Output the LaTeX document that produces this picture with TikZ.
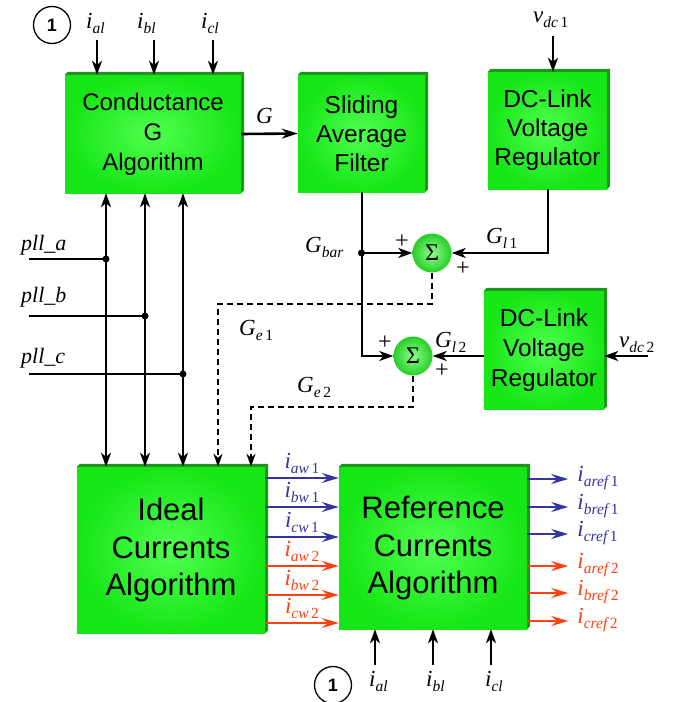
\documentclass[tikz,border=0pt]{standalone}
\usepackage{fontspec}
\setmainfont{Liberation Sans}
\newfontfamily\tms{Liberation Serif}
\usetikzlibrary{arrows.meta,backgrounds}
\definecolor{gedge}{RGB}{22,230,22}
\definecolor{gmid}{RGB}{80,255,80}
\definecolor{gdark}{RGB}{30,150,30}
\definecolor{sgin}{RGB}{140,255,140}
\definecolor{sgout}{RGB}{40,205,40}
\definecolor{iblue}{RGB}{52,52,163}
\definecolor{ired}{RGB}{255,64,16}
\newcommand\lb[3]{{\tms\fontsize{23}{23}\selectfont\itshape #1}\raisebox{-5.5pt}{\tms\fontsize{15.5}{15.5}\selectfont\itshape #2\ifx\relax#3\relax\else\,\upshape #3\fi}}
\newcommand\pl[1]{{\tms\fontsize{22}{22}\selectfont\itshape pll\_#1}}
\begin{document}
\begin{tikzpicture}[x=1pt,y=-1pt,
  gbox/.style={inner sep=0pt, align=center, shading=radial, inner color=gmid, outer color=gedge},
  sig/.style={circle, inner sep=0pt, minimum size=39pt, shading=radial, inner color=sgin, outer color=sgout},
  one/.style={circle, draw, line width=1.3pt, minimum size=37pt, inner sep=0pt, font=\fontsize{18}{18}\selectfont\bfseries},
  arr/.style={line width=2pt, -{Stealth[length=14pt,width=10pt,inset=4pt]}},
  barr/.style={line width=2.6pt, {Stealth[length=14pt,width=10pt,inset=4pt]}-{Stealth[length=14pt,width=10pt,inset=4pt]}},
  carr/.style={line width=2.4pt, -{Stealth[length=17pt,width=10pt,inset=6pt]}},
  dsh/.style={line width=2.2pt, dash pattern=on 6pt off 4pt, -{Stealth[length=13pt,width=9pt,inset=4pt]}},
  thinl/.style={line width=1.4pt},
  lbl/.style={inner sep=0pt, anchor=base west},
  pm/.style={inner sep=0pt, font=\tms\fontsize{24}{24}\selectfont}
]
\useasboundingbox (0,0) rectangle (679,702);

% boxes
\node[gbox, minimum width=176pt, minimum height=118pt, font=\fontsize{24}{30}\selectfont] (cond) at (153,134) {Conductance\\G\\Algorithm};
\node[gbox, minimum width=127pt, minimum height=117pt, font=\fontsize{24.5}{29}\selectfont] (sf) at (361.5,133.5) {Sliding\\Average\\Filter};
\node[gbox, minimum width=119pt, minimum height=117pt, font=\fontsize{24.5}{29}\selectfont] (dc1) at (547.5,130.5) {DC-Link\\Voltage\\Regulator};
\node[gbox, minimum width=120pt, minimum height=118pt, font=\fontsize{24.5}{30}\selectfont] (dc2) at (544,350) {DC-Link\\Voltage\\Regulator};
\node[gbox, minimum width=188pt, minimum height=166pt, font=\fontsize{31}{37.5}\selectfont] (ideal) at (171,550) {Ideal\\Currents\\Algorithm};
\node[gbox, minimum width=188pt, minimum height=162pt, font=\fontsize{31}{37.5}\selectfont] (ref) at (433,548) {Reference\\Currents\\Algorithm};

\begin{scope}[on background layer]
\foreach \n in {cond,sf,dc1,dc2,ideal,ref}{
  \fill[gdark] (\n.north west) -- ([shift={(3,-3)}]\n.north west) -- ([shift={(3,-3)}]\n.north east)
    -- ([shift={(3,-3)}]\n.south east) -- (\n.south east) -- cycle;
}
\end{scope}

% sums
\node[sig] (s1) at (432,253) {\tms\fontsize{24}{24}\selectfont Σ};
\node[sig] (s2) at (413,356) {\tms\fontsize{24}{24}\selectfont Σ};
\node[pm] at (402,242) {+};
\node[pm] at (463,269) {+};
\node[pm] at (385,343) {+};
\node[pm] at (442,371) {+};

% circled ones
\node[one] (o1) at (52,25) {1};
\node[one] (o2) at (333,685) {1};

% top inputs
\coordinate (ta) at (97,40);
\coordinate (tb) at (154,40);
\coordinate (tc) at (213,40);
\draw[arr] (ta) -- (ta |- cond.north);
\draw[arr] (tb) -- (tb |- cond.north);
\draw[arr] (tc) -- (tc |- cond.north);
\node[lbl] at (86,28) {\lb{i}{al}{}};
\node[lbl] at (137,28) {\lb{i}{bl}{}};
\node[lbl] at (201,28) {\lb{i}{cl}{}};

% G
\draw[line width=2.6pt, -{Stealth[length=16pt,width=10pt,inset=5pt]}] (cond.east) -- (sf.west);
\node[lbl] at (256,123) {\lb{G}{}{}};

% vdc1
\coordinate (tv) at (553,36);
\draw[arr] (tv) -- (tv |- dc1.north);
\node[lbl] at (533,22) {\lb{v}{dc}{1}};

% Gbar path
\coordinate (gb) at (sf.south |- s1);
\draw[line width=2pt] (sf.south) -- (gb);
\draw[arr] (gb) |- (s2.west);
\draw[arr] (gb) -- (s1.west);
\fill (gb) circle (3.5);
\node[lbl] at (305,252) {\lb{G}{bar}{}};

% Gl1
\draw[arr] (dc1.south) |- (s1.east);
\node[lbl] at (486,243) {\lb{G}{l}{1}};

% Gl2
\draw[arr] (s2.east -| dc2.west) -- (s2.east);
\node[lbl] at (435,347) {\lb{G}{l}{2}};

% vdc2
\coordinate (v2) at (648,356);
\draw[arr, line width=2.6pt] (v2) -- (v2 -| dc2.east);
\node[lbl] at (619,347) {\lb{v}{dc}{2}};

% dashed Ge
\coordinate (e1) at (218,304);
\coordinate (e2) at (251,407);
\draw[dsh] (s1.south) |- (e1) -- (e1 |- ideal.north);
\draw[dsh] (s2.south) |- (e2) -- (e2 |- ideal.north);
\node[lbl] at (239,335) {\lb{G}{e}{1}};
\node[lbl] at (297,392) {\lb{G}{e}{2}};

% bus lines
\coordinate (b1) at (106,0);
\coordinate (b2) at (145,0);
\coordinate (b3) at (183,0);
\draw[barr] (b1 |- cond.south) -- (b1 |- ideal.north);
\draw[barr] (b2 |- cond.south) -- (b2 |- ideal.north);
\draw[barr] (b3 |- cond.south) -- (b3 |- ideal.north);

% pll
\coordinate (pa) at (29,259);
\coordinate (pb) at (29,316);
\coordinate (pc) at (29,374);
\draw[thinl] (pa) -- (pa -| b1);
\draw[thinl] (pb) -- (pb -| b2);
\draw[thinl] (pc) -- (pc -| b3);
\fill (pa -| b1) circle (3.5);
\fill (pb -| b2) circle (3.5);
\fill (pc -| b3) circle (3.5);
\node[lbl] at (21,250) {\pl{a}};
\node[lbl] at (21,302) {\pl{b}};
\node[lbl] at (21,363) {\pl{c}};

% ideal -> ref currents
\foreach \y/\c/\s/\n in {478/iblue/aw/1, 507/iblue/bw/1, 537/iblue/cw/1, 566/ired/aw/2, 595/ired/bw/2, 623/ired/cw/2}{
  \coordinate (yy) at (0,\y);
  \draw[carr, \c] (ideal.east |- yy) -- (ref.west |- yy)
     node[midway, anchor=base, yshift=10pt, inner sep=0pt, text=\c] {\lb{i}{\s}{\n}};
}
% outputs
\foreach \y/\c/\s/\n in {479/iblue/aref/1, 507/iblue/bref/1, 534/iblue/cref/1, 566/ired/aref/2, 593/ired/bref/2, 621/ired/cref/2}{
  \coordinate (yy) at (0,\y);
  \draw[carr, \c] (ref.east |- yy) -- ++(41,0)
     node[anchor=base west, xshift=8pt, yshift=-2pt, inner sep=0pt, text=\c] {\lb{i}{\s}{\n}};
}

% bottom inputs
\coordinate (ba) at (375,665);
\coordinate (bb) at (433,665);
\coordinate (bc) at (491,665);
\draw[arr] (ba) -- (ba |- ref.south);
\draw[arr] (bb) -- (bb |- ref.south);
\draw[arr] (bc) -- (bc |- ref.south);
\node[lbl] at (369,686) {\lb{i}{al}{}};
\node[lbl] at (426,686) {\lb{i}{bl}{}};
\node[lbl] at (485,686) {\lb{i}{cl}{}};
\end{tikzpicture}
\end{document}
